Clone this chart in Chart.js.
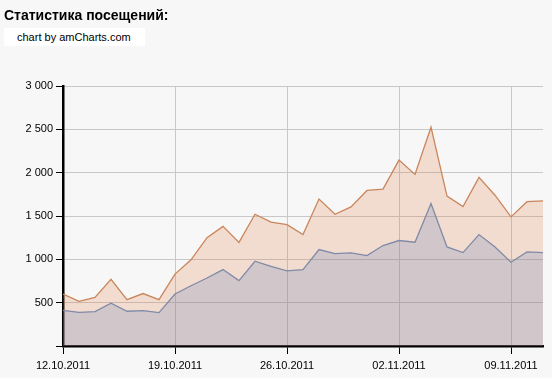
<!DOCTYPE html>
<html>
<head>
<meta charset="utf-8">
<script src="https://cdn.jsdelivr.net/npm/chart.js@4/dist/chart.umd.min.js"></script>
<style>
  html, body { margin: 0; padding: 0; background: #f7f7f7; }
  #wrap { position: relative; width: 552px; height: 378px; overflow: hidden; }
  #title { position: absolute; left: 4px; top: 7px; font: bold 14px "Liberation Sans", Arial, sans-serif; color: #000; line-height: 16px; }
  #credit { position: absolute; left: 4px; top: 28px; width: 141px; height: 18px; background: #fff;
            font: 11px "Liberation Sans", Arial, sans-serif; color: #000; line-height: 18px; box-sizing: border-box; padding-left: 13px; }
  canvas { position: absolute; left: 0; top: 0; }
</style>
</head>
<body>
<div id="wrap">
  <canvas id="c" width="552" height="378"></canvas>
  <div id="title">Статистика посещений:</div>
  <div id="credit">chart by amCharts.com</div>
</div>
<script>
const categories = [
  '12.10.2011','13.10.2011','14.10.2011','15.10.2011','16.10.2011','17.10.2011','18.10.2011',
  '19.10.2011','20.10.2011','21.10.2011','22.10.2011','23.10.2011','24.10.2011','25.10.2011',
  '26.10.2011','27.10.2011','28.10.2011','29.10.2011','30.10.2011','31.10.2011','01.11.2011',
  '02.11.2011','03.11.2011','04.11.2011','05.11.2011','06.11.2011','07.11.2011','08.11.2011',
  '09.11.2011','10.11.2011','11.11.2011'
];
const views = [600, 515, 560, 770, 535, 605, 535, 830, 995, 1250, 1380, 1195, 1520, 1430, 1400,
               1285, 1695, 1520, 1605, 1795, 1810, 2145, 1980, 2525, 1730, 1610, 1945, 1740, 1490, 1665, 1675];
const visitors = [412, 389, 397, 493, 401, 408, 385, 600, 695, 785, 882, 755, 978, 920, 866,
                  882, 1113, 1067, 1074, 1044, 1159, 1217, 1197, 1644, 1143, 1078, 1286, 1143, 966, 1085, 1078];
const xTickLabels = ['12.10.2011', '19.10.2011', '26.10.2011', '02.11.2011', '09.11.2011'];
const yTickValues = [500, 1000, 1500, 2000, 2500, 3000];

const toPoints = arr => arr.map((v, i) => ({ x: i, y: v }));
const xTickIdx = xTickLabels.map(l => categories.indexOf(l));

new Chart(document.getElementById('c'), {
  type: 'line',
  data: {
    datasets: [
      {
        label: 'Посетители',
        data: toPoints(visitors),
        borderColor: '#7f8aa8',
        backgroundColor: 'rgba(100,125,180,0.23)',
        borderWidth: 1.3,
        fill: 'origin',
        pointRadius: 0,
        tension: 0
      },
      {
        label: 'Просмотры',
        data: toPoints(views),
        borderColor: '#c9865c',
        backgroundColor: 'rgba(225,130,75,0.23)',
        borderWidth: 1.3,
        fill: 'origin',
        pointRadius: 0,
        tension: 0
      }
    ]
  },
  options: {
    responsive: false,
    animation: false,
    layout: { padding: { top: 86, right: 9, left: 0, bottom: 0 } },
    plugins: { legend: { display: false }, tooltip: { enabled: false } },
    scales: {
      x: {
        type: 'linear',
        min: 0,
        max: categories.length - 1,
        afterBuildTicks: s => { s.ticks = xTickIdx.map(v => ({ value: v })); },
        afterFit: s => { s.height = 32; },
        ticks: {
          autoSkip: false,
          maxRotation: 0,
          padding: 5,
          color: '#000',
          font: { family: '"Liberation Sans", Arial, sans-serif', size: 11 },
          callback: v => categories[v]
        },
        grid: { color: '#c8c8c8', lineWidth: 1, tickColor: '#000', tickLength: 8 },
        border: { color: '#000', width: 2.5 }
      },
      y: {
        min: 0,
        max: 3000,
        afterBuildTicks: s => { s.ticks = [0].concat(yTickValues).map(v => ({ value: v })); },
        afterFit: s => { s.width = 63; },
        ticks: {
          padding: 3,
          color: '#000',
          font: { family: '"Liberation Sans", Arial, sans-serif', size: 11 },
          callback: v => v === 0 ? '' : String(v).replace(/\B(?=(\d{3})+(?!\d))/g, ' ')
        },
        grid: { color: '#c8c8c8', lineWidth: 1, tickColor: '#000', tickLength: 7 },
        border: { color: '#000', width: 2.5 }
      }
    }
  }
});
</script>
</body>
</html>
